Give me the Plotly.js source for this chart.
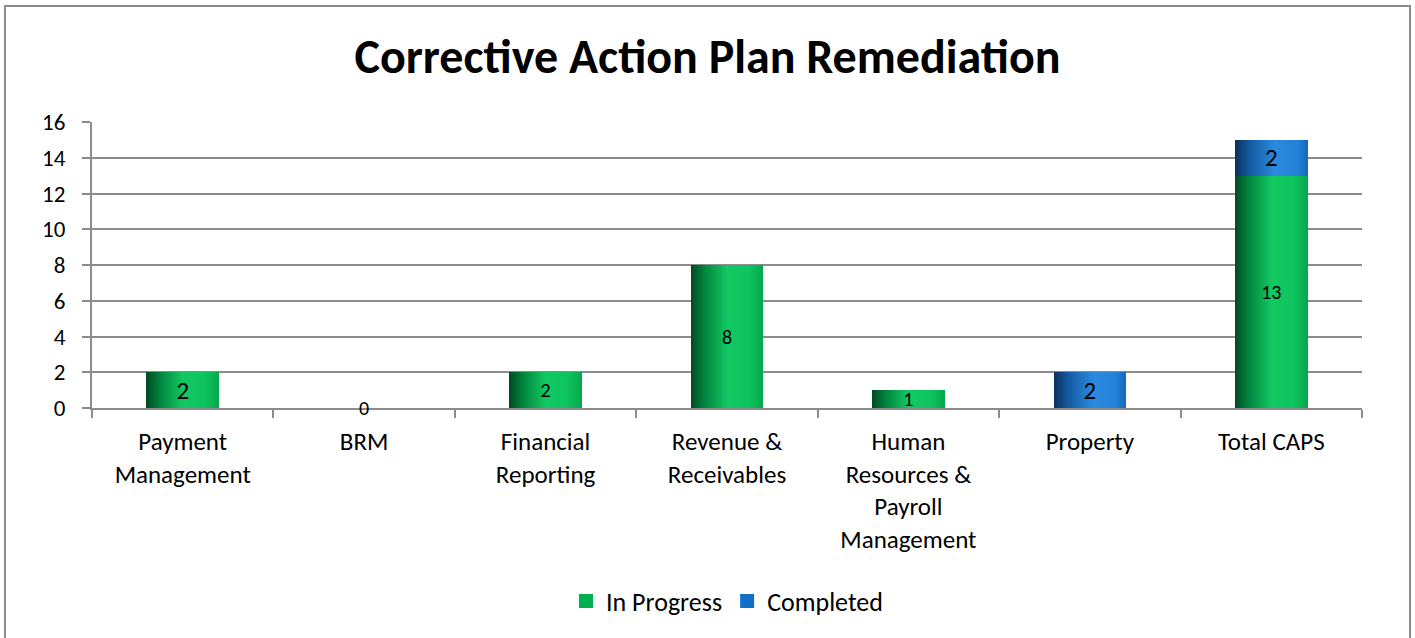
<!DOCTYPE html>
<html>
<head>
<meta charset="utf-8">
<script src="https://cdn.plot.ly/plotly-3.0.1.min.js"></script>
<style>
  html, body { margin: 0; padding: 0; background: #ffffff; }
  #frame { position: absolute; left: 4px; top: 5px; width: 1407px; height: 650px; border: 2px solid #8c8c8c; box-sizing: border-box; }
  #chart { position: absolute; left: 0; top: 0; width: 1415px; height: 638px; }
</style>
</head>
<body>
<div id="frame"></div>
<div id="chart"></div>
<script>
// ---- data ----
const categories = ["Payment<br>Management", "BRM", "Financial<br>Reporting", "Revenue &<br>Receivables", "Human<br>Resources &<br>Payroll<br>Management", "Property", "Total CAPS"];
const inProgress = [2, 0, 2, 8, 1, 0, 13];
const completed  = [0, 0, 0, 0, 0, 2, 2];
const inProgressLabelShown = [true, false, true, true, true, false, true];
const completedLabelShown  = [false, false, false, false, false, true, true];
const inProgressLabelSize  = [25, 20, 20, 20, 20, 20, 20];
const completedLabelSize   = [25, 25, 25, 25, 25, 25, 25];
const zeroLabelCategory = "BRM";
const yTicks = [0, 2, 4, 6, 8, 10, 12, 14, 16];

const FONT = "Carlito, Lato, 'Open Sans', sans-serif";

const traces = [
  {
    type: "bar", name: "In Progress", x: categories, y: inProgress,
    text: inProgress.map((v, i) => inProgressLabelShown[i] ? String(v) : ""),
    textposition: "inside", insidetextanchor: "middle", textangle: 0,
    constraintext: "none",
    textfont: { family: FONT, color: "#000000", size: inProgressLabelSize },
    marker: { color: "#00b050", line: { width: 0 } },
    hoverinfo: "skip"
  },
  {
    type: "bar", name: "Completed", x: categories, y: completed,
    text: completed.map((v, i) => completedLabelShown[i] ? String(v) : ""),
    textposition: "inside", insidetextanchor: "middle", textangle: 0,
    constraintext: "none",
    textfont: { family: FONT, color: "#000000", size: completedLabelSize },
    marker: { color: "#1070c8", line: { width: 0 } },
    hoverinfo: "skip"
  }
];

const layout = {
  width: 1415, height: 638,
  paper_bgcolor: "rgba(0,0,0,0)", plot_bgcolor: "rgba(0,0,0,0)",
  margin: { l: 92, r: 53, t: 122, b: 230 },
  barmode: "stack", bargap: 0.6,
  font: { family: FONT, color: "#000000", size: 25 },
  title: {
    text: "<b>Corrective Action Plan Remediation</b>",
    font: { family: FONT, size: 48, color: "#000000" },
    x: 0.5, xanchor: "center", yref: "container", y: 1 - 56 / 638, yanchor: "middle"
  },
  xaxis: {
    type: "category", tickson: "boundaries", ticks: "outside", ticklen: 8, tickwidth: 2,
    tickcolor: "#8c8c8c", showline: true, linecolor: "#8c8c8c", linewidth: 2,
    showgrid: false, tickfont: { family: FONT, size: 25, color: "#000000" },
    ticklabelstandoff: 10, fixedrange: true
  },
  yaxis: {
    range: [0, 16], tickvals: yTicks, ticktext: yTicks.map(String),
    ticks: "outside", ticklen: 8, tickwidth: 2, tickcolor: "#8c8c8c",
    showline: true, linecolor: "#8c8c8c", linewidth: 2,
    showgrid: true, gridcolor: "#8c8c8c", gridwidth: 2, zeroline: false,
    tickfont: { family: FONT, size: 23, color: "#000000" },
    ticklabelstandoff: 12, fixedrange: true
  },
  legend: {
    orientation: "h", x: 0.5, xanchor: "center", y: (408 - 601) / 286, yanchor: "middle",
    font: { family: FONT, size: 26, color: "#000000" }, traceorder: "normal",
    itemwidth: 30
  },
  annotations: [
    { x: zeroLabelCategory, y: 0, xref: "x", yref: "y", text: "0", showarrow: false,
      font: { family: FONT, size: 20, color: "#000000" }, yanchor: "middle" }
  ],
  showlegend: true
};

Plotly.newPlot("chart", traces, layout, { displayModeBar: false, staticPlot: true }).then(function (gd) {
  const svg = gd.querySelector("svg.main-svg");
  const ns = "http://www.w3.org/2000/svg";
  let defs = svg.querySelector("defs");
  if (!defs) { defs = document.createElementNS(ns, "defs"); svg.insertBefore(defs, svg.firstChild); }
  function grad(id, stops) {
    const g = document.createElementNS(ns, "linearGradient");
    g.setAttribute("id", id);
    g.setAttribute("x1", "0"); g.setAttribute("y1", "0"); g.setAttribute("x2", "1"); g.setAttribute("y2", "0");
    stops.forEach(function (s) {
      const st = document.createElementNS(ns, "stop");
      st.setAttribute("offset", s[0]); st.setAttribute("stop-color", s[1]);
      g.appendChild(st);
    });
    defs.appendChild(g);
  }
  grad("gGreen", [["0", "#004a22"], ["0.18", "#00833d"], ["0.5", "#12c862"], ["0.8", "#0fc45e"], ["1", "#03a84c"]]);
  grad("gBlue", [["0", "#0b2f5c"], ["0.2", "#145aa0"], ["0.55", "#2a8ae0"], ["0.85", "#2482d8"], ["1", "#1668b8"]]);
  const barTraces = gd.querySelectorAll("g.trace.bars");
  barTraces.forEach(function (t, idx) {
    t.querySelectorAll("g.point path").forEach(function (p) {
      p.style.fill = idx === 0 ? "url(#gGreen)" : "url(#gBlue)";
    });
  });
  gd.querySelectorAll("g.legendpoints path").forEach(function (p) {
    p.setAttribute("d", "M-7,-7H7V7H-7Z");
  });
});
</script>
</body>
</html>
